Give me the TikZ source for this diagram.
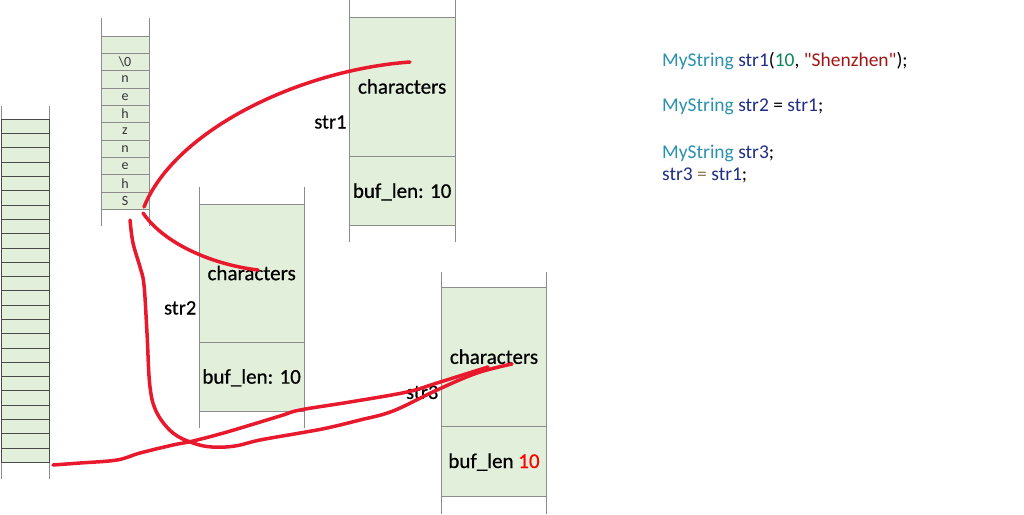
\documentclass[tikz,border=0pt]{standalone}
\usepackage{fontspec}
\setmainfont{Carlito}
\newfontfamily\labelfont{Carlito}[FakeBold=0.5]
\newfontfamily\codefont{Carlito}
\definecolor{cellgreen}{HTML}{E2EFDA}
\definecolor{gridgray}{HTML}{8C8C8C}
\definecolor{darkgrid}{HTML}{4A4A4A}
\definecolor{pen}{HTML}{E8192C}
\definecolor{typeteal}{HTML}{2B91AF}
\definecolor{idnavy}{HTML}{1F2D86}
\definecolor{numgreen}{HTML}{098658}
\definecolor{strred}{HTML}{A31515}
\definecolor{optan}{HTML}{8C7A55}
\definecolor{brightred}{HTML}{FF0000}
\begin{document}
\begin{tikzpicture}[x=1pt,y=-1pt,
  field/.style={draw=gridgray, fill=cellgreen, line width=0.9pt, inner sep=0pt,
    text height=14pt, text depth=0pt, font=\labelfont\fontsize{21}{24}\selectfont},
  rail/.style={draw=gridgray, line width=1pt},
  tinycell/.style={draw=gridgray, fill=cellgreen, line width=0.8pt, minimum width=48pt,
    minimum height=17.33pt, inner sep=0pt, font=\fontsize{14}{15}\selectfont, text=gray!40!black},
  bigcell/.style={draw=darkgrid, fill=cellgreen, line width=0.8pt, minimum width=48.3pt,
    minimum height=14.29pt, inner sep=0pt},
  varname/.style={anchor=east, inner sep=0pt, text height=14pt, text depth=0pt,
    font=\labelfont\fontsize{20.5}{24}\selectfont},
  codeline/.style={anchor=base west, inner sep=0pt, font=\codefont\fontsize{19.5}{23}\selectfont},
  ink/.style={draw=pen, line width=3.5pt, line cap=round, line join=round}]
\useasboundingbox (0,0) rectangle (1024,514);
\fill[white] (0,0) rectangle (1024,514);

% big array (left)
\draw[rail] (1,106) -- (1,479);
\draw[rail] (49.3,106) -- (49.3,479);
\foreach \i in {0,...,23} {
  \node[bigcell] (big\i) at (25.15,{119.3+14.29*(\i+0.5)}) {};
}

% small character array
\draw[rail] (101,18) -- (101,226);
\draw[rail] (149,18) -- (149,226);
\foreach \ch [count=\i from 0] in {{},{\textbackslash 0},n,e,h,z,n,e,h,S} {
  \node[tinycell] (chr\i) at (125,{36+17.33*(\i+0.5)}) {\ch};
}

% str1
\draw[rail] (349.3,0) -- (349.3,241.7);
\draw[rail] (455,0) -- (455,241.7);
\node[field, minimum width=105.7pt, minimum height=138.7pt] (s1c) at (402.15,86.65) {characters};
\node[field, minimum width=105.7pt, minimum height=69.7pt] (s1l) at (402.15,190.85) {buf\_len: 10};
\node[varname] (n1) at (346.7,121.5) {str1};

% str2
\draw[rail] (199,186.7) -- (199,428.3);
\draw[rail] (304.3,186.7) -- (304.3,428.3);
\node[field, minimum width=105.3pt, minimum height=138.3pt] (s2c) at (251.65,273.15) {characters};
\node[field, minimum width=105.3pt, minimum height=68.7pt] (s2l) at (251.65,376.65) {buf\_len: 10};
\node[varname] (n2) at (196.5,307.5) {str2};

% str3
\draw[rail] (441.3,271.7) -- (441.3,514);
\draw[rail] (546.7,271.7) -- (546.7,514);
\node[field, minimum width=105.4pt, minimum height=138.3pt] (s3c) at (494,356.85) {characters};
\node[field, minimum width=105.4pt, minimum height=70pt] (s3l) at (494,461) {buf\_len \textcolor{brightred}{10}};
\node[varname] (n3) at (438.5,391.9) {str3};

% code
\node[codeline] (code1) at (662,66) {\textcolor{typeteal}{MyString} \textcolor{idnavy}{str1}(\textcolor{numgreen}{10}, \textcolor{strred}{"Shenzhen"});};
\node[codeline] (code2) at (662,111.7) {\textcolor{typeteal}{MyString} \textcolor{idnavy}{str2} = \textcolor{idnavy}{str1};};
\node[codeline] (code3) at (662,158.3) {\textcolor{typeteal}{MyString} \textcolor{idnavy}{str3};};
\node[codeline] (code4) at (662,180.3) {\textcolor{idnavy}{str3} \textcolor{optan}{=} \textcolor{idnavy}{str1};};

% red pen strokes
\coordinate (aS) at (144,207);
\coordinate (aE) at (410,62);
\draw[ink] (aS) .. controls (175,130) and (300,70) .. (aE);
\coordinate (bS) at (143,213);
\coordinate (bE) at (258,270);
\draw[ink] (bS) .. controls (165,245) and (215,265) .. (bE);
\coordinate (cS) at (130,220);
\coordinate (cE) at (512,364);
\draw[ink] plot[smooth, tension=0.6] coordinates {(cS) (133,243) (140,267) (144,285) (147,333) (150,387) (157,413) (173,433) (193,443) (212,447) (235,446) (260,440) (300,433) (327,428) (360,420) (393,411) (437,390) (477,373) (cE)};
\coordinate (dS) at (53,465);
\coordinate (dE) at (488,367);
\draw[ink] plot[smooth, tension=0.6] coordinates {(dS) (80,463) (117,460) (140,453) (173,445) (193,441) (227,432) (280,416) (300,410) (350,402) (407,392) (437,383) (dE)};
\end{tikzpicture}
\end{document}
